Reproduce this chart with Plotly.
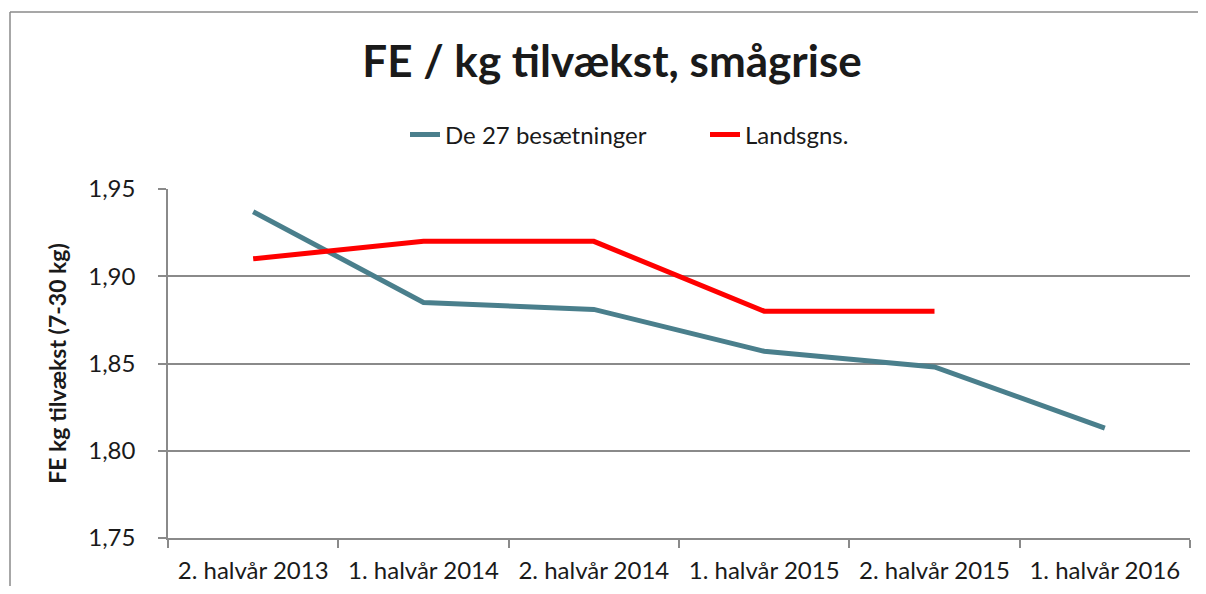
import plotly.graph_objects as go

categories = ["2. halvår 2013", "1. halvår 2014", "2. halvår 2014",
              "1. halvår 2015", "2. halvår 2015", "1. halvår 2016"]
besaetninger = [1.937, 1.885, 1.881, 1.857, 1.848, 1.813]
landsgns = [1.91, 1.92, 1.92, 1.88, 1.88, None]

# page offset (default body margin of the html page)
OX, OY = 8, 8
W, H = 1206 - 2 * OX, 594 - 2 * OY
L, T = 168 - OX, 189 - OY
R = W - (1190 - OX)
B = H - (538 - OY)
pw, ph = W - L - R, H - T - B


def px(x):  # reference page x -> paper
    return (x - OX - L) / pw


def py(y):  # reference page y -> paper
    return (H - B - (y - OY)) / ph


FONT = "Lato, Calibri, sans-serif"
GRID = "#8a8a8a"
TXT = "#1a1a1a"

fig = go.Figure()
fig.add_trace(go.Scatter(x=categories, y=besaetninger, mode="lines",
                         name="De 27 besætninger",
                         line=dict(color="#4a7f8c", width=5)))
fig.add_trace(go.Scatter(x=categories, y=landsgns, mode="lines",
                         name="Landsgns.",
                         line=dict(color="#ff0000", width=5)))

fig.update_layout(
    width=W, height=H,
    margin=dict(l=L, r=R, t=T, b=B, autoexpand=False),
    paper_bgcolor="white", plot_bgcolor="white",
    separators=", ",
    font=dict(family=FONT, color=TXT, size=24),
    title=dict(text="<b>FE / kg tilvækst, smågrise</b>",
               font=dict(family=FONT, size=44, color=TXT),
               xref="container", x=(612 - OX) / W, xanchor="center",
               yref="container", y=1 - (62 - OY) / H, yanchor="middle"),
    showlegend=True,
    legend=dict(orientation="h", xref="paper", x=px(405), xanchor="left",
                yref="paper", y=py(135), yanchor="middle",
                font=dict(family=FONT, size=24, color=TXT),
                entrywidth=255, bgcolor="rgba(0,0,0,0)"),
    xaxis=dict(type="category", range=[-0.5, len(categories) - 0.5],
               tickson="boundaries", ticks="outside",
               ticklen=8, tickcolor=GRID, tickwidth=1.5,
               showline=True, linecolor=GRID, linewidth=1.5,
               showgrid=False, ticklabelstandoff=10,
               tickfont=dict(family=FONT, size=24, color=TXT),
               fixedrange=True),
    yaxis=dict(range=[1.75, 1.95], dtick=0.05, tick0=1.75, tickformat=".2f",
               ticks="outside", ticklen=8, tickcolor=GRID, tickwidth=1.5,
               showline=True, linecolor=GRID, linewidth=1.5,
               showgrid=True, gridcolor=GRID, gridwidth=1.5,
               zeroline=False, ticklabelstandoff=18,
               tickfont=dict(family=FONT, size=24, color=TXT),
               title=dict(text="<b>FE kg tilvækst (7-30 kg)</b>",
                          font=dict(family=FONT, size=23, color=TXT),
                          standoff=15),
               fixedrange=True),
)

# chart area border (top and left visible in reference)
fig.add_shape(type="line", xref="paper", yref="paper",
              x0=px(10), x1=px(1206), y0=py(12), y1=py(12),
              line=dict(color=GRID, width=1.5))
fig.add_shape(type="line", xref="paper", yref="paper",
              x0=px(10), x1=px(10), y0=py(12), y1=py(594),
              line=dict(color=GRID, width=1.5))

fig.write_html("out.html", config={"displayModeBar": False})
